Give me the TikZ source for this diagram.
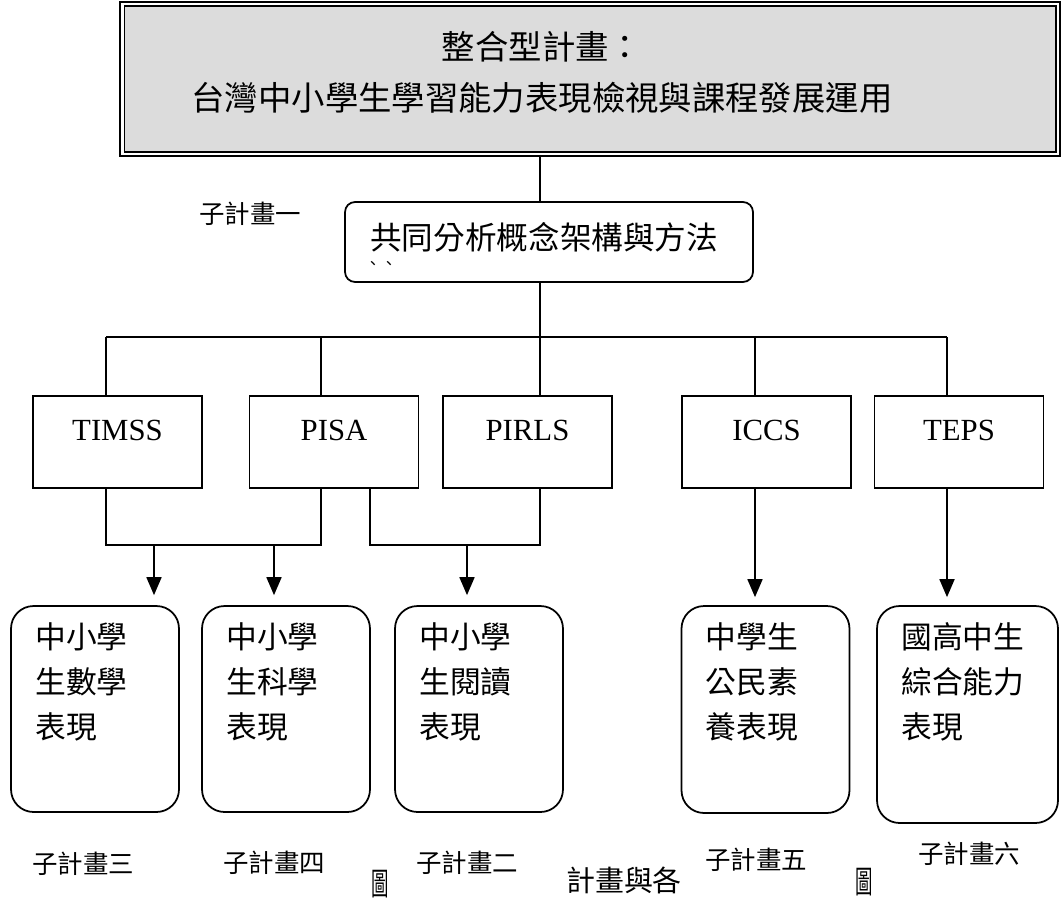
\documentclass[tikz,border=0pt]{standalone}
\usepackage{fontspec}
\setmainfont{Liberation Serif}
\newfontfamily\cjk{Noto Sans CJK TC}
\usetikzlibrary{arrows.meta, positioning}
\definecolor{screengray}{HTML}{DCDCDC}

\begin{document}
\begin{tikzpicture}[x=0.02cm, y=-0.02cm]
\tikzstyle{mainbox} = [rectangle, draw, double, line width=1pt, double distance=1.6pt, fill=screengray, minimum width=18.72cm, minimum height=3cm]
\tikzstyle{framebox} = [rectangle, rounded corners=0.2cm, draw, line width=1pt, minimum width=8.16cm, minimum height=1.6cm]
\tikzstyle{testbox} = [rectangle, draw, line width=1pt, minimum width=3.38cm, minimum height=1.84cm, text depth=0.48cm, font=\fontsize{17.5}{21}\selectfont]
\tikzstyle{resultbox} = [rectangle, rounded corners=0.45cm, draw, line width=1pt, minimum width=3.36cm, minimum height=4.12cm]
\tikzstyle{resulttext} = [anchor=north west, align=left, inner sep=0pt, xshift=0.5cm, yshift=-0.34cm, font=\cjk\fontsize{17.5}{25.6}\selectfont]
\tikzstyle{subplan} = [font=\cjk\fontsize{14.5}{17}\selectfont]
\tikzstyle{figmark} = [font=\cjk\fontsize{18}{20}\selectfont]
\tikzstyle{link} = [line width=1pt]
\tikzstyle{arrowlink} = [line width=1pt, -{Triangle[length=0.36cm, width=0.3cm]}]

\useasboundingbox (0,0) rectangle (1061,907);

% integrated plan
\node[mainbox] (plan) at (590,79) {};
\node[font=\cjk\fontsize{19}{29}\selectfont, align=center] (plantitle) at (542,72) {整合型計畫：\\台灣中小學生學習能力表現檢視與課程發展運用};
\coordinate (trunk) at (540,0);

% sub-plan one
\node[framebox] (frame) at (549,242) {};
\node[anchor=west, inner sep=0pt, font=\cjk\fontsize{18}{22}\selectfont] (frametext) at (370,237) {共同分析概念架構與方法};
\node[font=\cjk\fontsize{9}{10}\selectfont] (framemark) at (381,265) {、、};
\node[subplan] (sub1) at (250,214) {子計畫一};

\draw[link] (plan.south -| trunk) -- (frame.north -| trunk);
\coordinate (split) at (540,337);
\draw[link] (frame.south -| trunk) -- (split);

% tests
\node[testbox] (timss) at (117.5,442) {TIMSS};
\node[testbox] (pisa) at (334,442) {PISA};
\node[testbox] (pirls) at (527.5,442) {PIRLS};
\node[testbox] (iccs) at (766.5,442) {ICCS};
\node[testbox] (teps) at (959,442) {TEPS};

\coordinate (dtimss) at (106,337);
\coordinate (dpisa) at (321,337);
\coordinate (dpirls) at (540,337);
\coordinate (diccs) at (755,337);
\coordinate (dteps) at (947,337);

\draw[link] (dtimss) -- (dteps);
\foreach \d/\t in {dtimss/timss, dpisa/pisa, dpirls/pirls, diccs/iccs, dteps/teps}
  \draw[link] (\d) -- (\d |- \t.north);

% results
\node[resultbox, label={[resulttext]north west:中小學\\生數學\\表現}] (math) at (95,709) {};
\node[resultbox, label={[resulttext]north west:中小學\\生科學\\表現}] (science) at (286,709) {};
\node[resultbox, label={[resulttext]north west:中小學\\生閱讀\\表現}] (reading) at (479,709) {};
\node[resultbox, minimum height=4.14cm, label={[resulttext]north west:中學生\\公民素\\養表現}] (civic) at (765.5,709.5) {};
\node[resultbox, minimum width=3.62cm, minimum height=4.34cm, label={[resulttext]north west:國高中生\\綜合能力\\表現}] (ability) at (967.5,714.5) {};

\coordinate (jleft) at (106,545);
\coordinate (jright) at (370,545);
\coordinate (amath) at (154,545);
\coordinate (asci) at (274,545);
\coordinate (aread) at (467,545);

\draw[link] (timss.south -| jleft) -- (jleft) -- (jleft -| dpisa) -- (pisa.south -| dpisa);
\draw[link] (pisa.south -| jright) -- (jright) -- (jright -| dpirls) -- (pirls.south -| dpirls);
\draw[arrowlink, shorten >=0.2cm] (amath) -- (amath |- math.north);
\draw[arrowlink, shorten >=0.2cm] (asci) -- (asci |- science.north);
\draw[arrowlink, shorten >=0.2cm] (aread) -- (aread |- reading.north);
\draw[arrowlink, shorten >=0.16cm] (iccs.south -| diccs) -- (diccs |- civic.north);
\draw[arrowlink, shorten >=0.16cm] (teps.south -| dteps) -- (dteps |- ability.north);

% sub-plan names
\node[subplan] (sub3) at (83,864) {子計畫三};
\node[subplan] (sub4) at (274,863) {子計畫四};
\node[figmark] (fig1) at (380,884) {\scalebox{0.55}[1]{圖}};
\node[subplan] (sub2) at (467,863) {子計畫二};
\node[font=\cjk\fontsize{16.5}{20}\selectfont] (caption) at (624,880) {計畫與各};
\node[subplan] (sub5) at (756,860) {子計畫五};
\node[figmark] (fig2) at (864,882) {\scalebox{0.55}[1]{圖}};
\node[subplan] (sub6) at (969,854) {子計畫六};

\end{tikzpicture}
\end{document}
